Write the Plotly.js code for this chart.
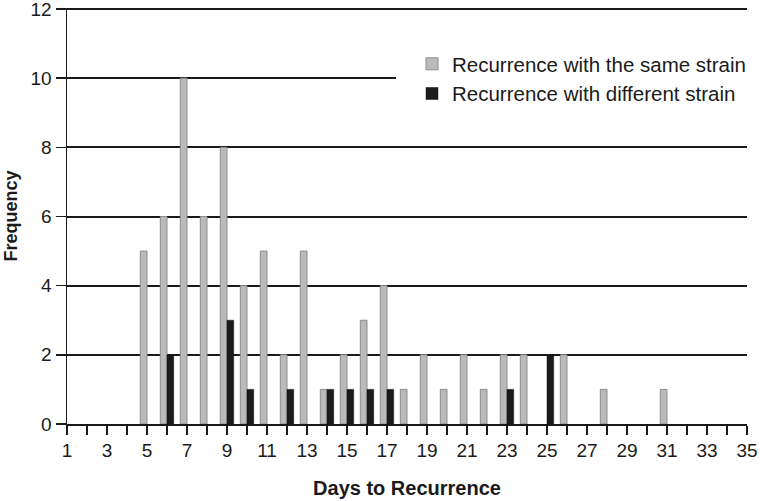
<!DOCTYPE html>
<html>
<head>
<meta charset="utf-8">
<script src="https://cdn.plot.ly/plotly-3.0.1.min.js"></script>
<style>html,body{margin:0;padding:0;background:#fff;}#chart{width:760px;height:501px;}</style>
</head>
<body>
<div id="chart"></div>
<script>
const days = [1,2,3,4,5,6,7,8,9,10,11,12,13,14,15,16,17,18,19,20,21,22,23,24,25,26,27,28,29,30,31,32,33,34,35];
const sameStrain = [0,0,0,0,5,6,10,6,8,4,5,2,5,1,2,3,4,1,2,1,2,1,2,2,0,2,0,1,0,0,1,0,0,0,0];
const differentStrain = [0,0,0,0,0,2,0,0,3,1,0,1,0,1,1,1,1,0,0,0,0,0,1,0,2,0,0,0,0,0,0,0,0,0,0];
const xTickLabels = ["1","","3","","5","","7","","9","","11","","13","","15","","17","","19","","21","","23","","25","","27","","29","","31","","33","","35"];
const yTickVals = [0,2,4,6,8,10,12];
const seriesNames = ["Recurrence with the same strain","Recurrence with different strain"];

// keep only the days that have a count, so no empty bar outlines appear on the axis
function nonZero(values) {
  const xs = [], ys = [];
  days.forEach((d, i) => { if (values[i] > 0) { xs.push(d); ys.push(values[i]); } });
  return {x: xs, y: ys};
}
const same = nonZero(sameStrain);
const diff = nonZero(differentStrain);

const font = "Liberation Sans, Arial, Helvetica, sans-serif";
const ink = "#1a1a1a";
const traces = [
  {type:"bar", x:same.x, y:same.y, name:seriesNames[0], legendgroup:"a",
   marker:{color:"#bababa", line:{color:"#8c8c8c", width:1}}},
  {type:"bar", x:diff.x, y:diff.y, name:seriesNames[1], legendgroup:"b",
   marker:{color:"#1b1b1b", line:{color:"#111", width:0.5}}}
];
const layout = {
  width:760, height:501,
  margin:{l:67, r:13, t:8, b:77},
  paper_bgcolor:"#fff", plot_bgcolor:"#fff",
  barmode:"group", bargap:0.33, bargroupgap:0,
  font:{family:font, color:ink, size:19},
  showlegend:true,
  legend:{x:(396-67)/680, xanchor:"left", y:(424-44)/416, yanchor:"top",
    bgcolor:"#fff", borderwidth:0, font:{size:20.5, family:font, color:ink},
    indentation:16, traceorder:"grouped", tracegroupgap:0},
  xaxis:{range:[1,35], tickmode:"array", tickvals:days, ticktext:xTickLabels,
    showgrid:false, zeroline:false, showline:true, linecolor:ink, linewidth:1.5,
    ticks:"outside", ticklen:9, tickwidth:1.5, tickcolor:ink,
    tickfont:{size:19, family:font, color:ink},
    title:{text:"Days to Recurrence", font:{size:20, family:font, color:ink, weight:"bold"}, standoff:20}},
  yaxis:{range:[0,12.03], tickmode:"array", tickvals:yTickVals,
    showgrid:true, gridcolor:ink, gridwidth:2, zeroline:false,
    showline:true, linecolor:ink, linewidth:1.5,
    ticks:"outside", ticklen:10, tickwidth:1.5, tickcolor:ink,
    ticklabeloverflow:"allow",
    tickfont:{size:19, family:font, color:ink},
    title:{text:"Frequency", font:{size:18, family:font, color:ink, weight:"bold"}, standoff:8}}
};
Plotly.newPlot("chart", traces, layout, {displayModeBar:false, staticPlot:true});
</script>
</body>
</html>
